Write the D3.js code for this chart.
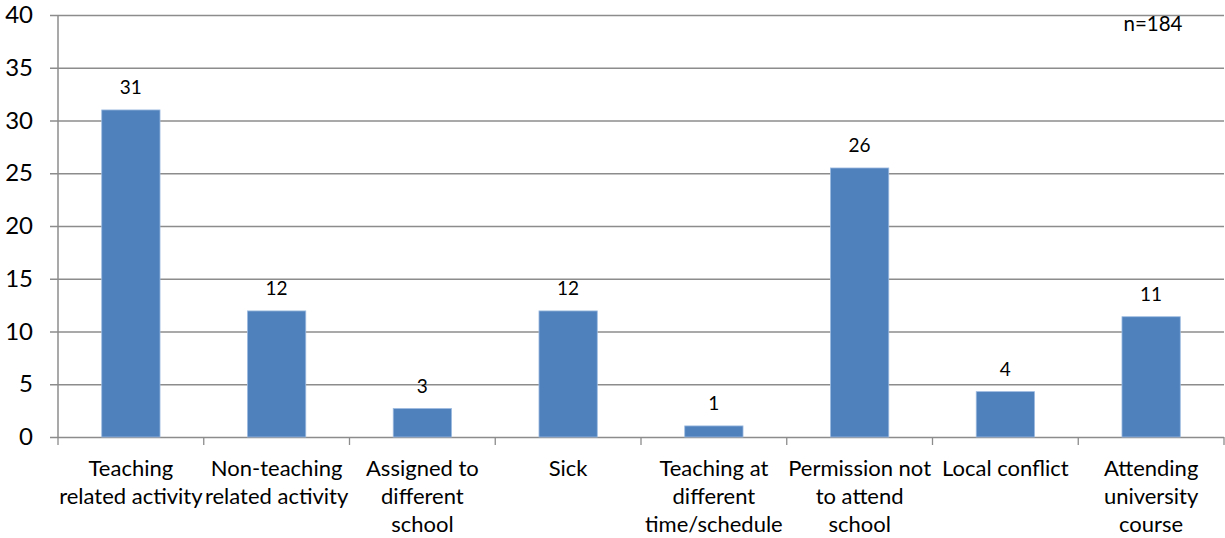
<!DOCTYPE html>
<html>
<head>
<meta charset="utf-8">
<script src="https://cdn.jsdelivr.net/npm/d3@7"></script>
<style>
  html, body { margin: 0; padding: 0; background: #fff; }
  svg { display: block; font-family: Lato, "Open Sans", sans-serif; }
</style>
</head>
<body>
<svg id="chart" width="1225" height="538"></svg>
<script>
// Reasons for teacher absence (share of responses, %)
const categories = [
  ["Teaching", "related activity"],
  ["Non-teaching", "related activity"],
  ["Assigned to", "different", "school"],
  ["Sick"],
  ["Teaching at", "different", "time/schedule"],
  ["Permission not", "to attend", "school"],
  ["Local conflict"],
  ["Attending", "university", "course"]
];
const values = [31.0, 11.95, 2.7, 11.95, 1.05, 25.5, 4.3, 11.4];
const yTicks = [0, 5, 10, 15, 20, 25, 30, 35, 40];
const sampleNote = "n=184";

const svg = d3.select("#chart");
const margin = { left: 58, right: 0, top: 15, bottom: 101 };
const W = 1225, H = 538;
const innerW = W - margin.left - margin.right - 1;
const innerH = H - margin.top - margin.bottom;

const g = svg.append("g").attr("transform", `translate(${margin.left},${margin.top})`);

const x = d3.scaleBand()
  .domain(d3.range(categories.length))
  .range([0, innerW])
  .paddingInner(0.6)
  .paddingOuter(0.3);

const y = d3.scaleLinear().domain([0, 40]).range([innerH, 0]);

const gridColor = "#8c8c8c";

// horizontal gridlines with outside tick marks
const yAxis = g.append("g")
  .call(d3.axisLeft(y).tickValues(yTicks).tickSize(-innerW).tickPadding(25).tickFormat(d3.format("d")));
yAxis.select(".domain").remove();
yAxis.selectAll(".tick line")
  .attr("x1", -8)
  .attr("stroke", gridColor)
  .attr("stroke-width", 1.3);
yAxis.selectAll(".tick text")
  .attr("font-size", 24)
  .attr("fill", "#000")
  .attr("font-family", "Lato, 'Open Sans', sans-serif");

// vertical axis line
g.append("line")
  .attr("x1", 0).attr("x2", 0)
  .attr("y1", 0).attr("y2", innerH)
  .attr("stroke", gridColor).attr("stroke-width", 1.5);

// category boundary ticks below the baseline
const step = x.step();
const boundaries = d3.range(categories.length + 1).map(i => i * step);
g.selectAll("line.xtick")
  .data(boundaries)
  .join("line")
  .attr("class", "xtick")
  .attr("x1", d => d).attr("x2", d => d)
  .attr("y1", innerH).attr("y2", innerH + 8)
  .attr("stroke", gridColor).attr("stroke-width", 1.3);

// bars
g.selectAll("rect.bar")
  .data(values)
  .join("rect")
  .attr("class", "bar")
  .attr("x", (d, i) => x(i))
  .attr("width", x.bandwidth())
  .attr("y", d => y(d))
  .attr("height", d => innerH - y(d))
  .attr("fill", "#4f81bd")
  .attr("stroke", "#9dbbe0")
  .attr("stroke-width", 0.8);

// value labels
g.selectAll("text.val")
  .data(values)
  .join("text")
  .attr("class", "val")
  .attr("x", (d, i) => x(i) + x.bandwidth() / 2)
  .attr("y", d => y(d) - 16)
  .attr("text-anchor", "middle")
  .attr("font-size", 19)
  .attr("fill", "#000")
  .text(d => d3.format(".0f")(d));

// category labels
const labels = g.selectAll("text.cat")
  .data(categories)
  .join("text")
  .attr("class", "cat")
  .attr("text-anchor", "middle")
  .attr("font-size", 22)
  .attr("fill", "#000")
  .attr("transform", (d, i) => `translate(${x(i) + x.bandwidth() / 2},${innerH + 39})`);
labels.selectAll("tspan")
  .data(d => d)
  .join("tspan")
  .attr("x", 0)
  .attr("y", (d, i) => i * 28)
  .text(d => d);

// sample size note
g.append("text")
  .attr("x", 1153 - margin.left)
  .attr("y", 31 - margin.top)
  .attr("text-anchor", "middle")
  .attr("font-size", 20.5)
  .attr("fill", "#000")
  .text(sampleNote);
</script>
</body>
</html>
